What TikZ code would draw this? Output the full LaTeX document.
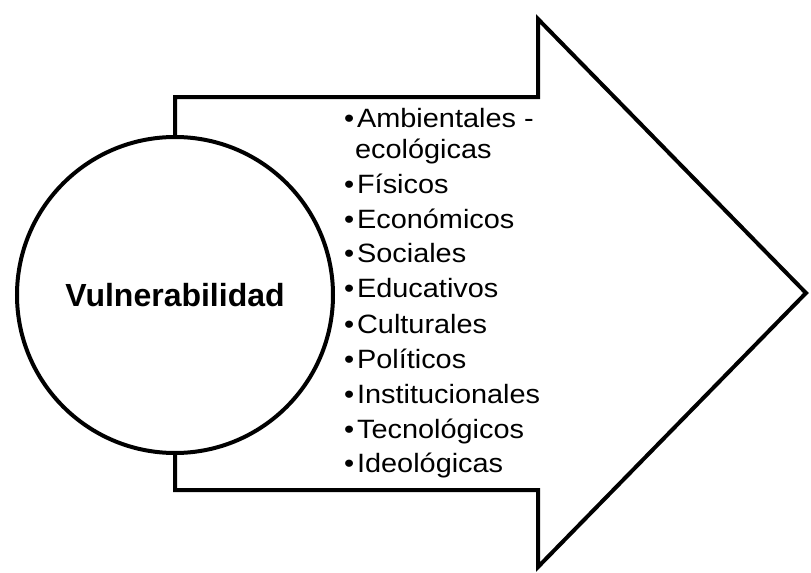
\documentclass[tikz,border=0pt]{standalone}
\usepackage{fontspec}
\setmainfont{Liberation Sans}
\newfontfamily\itemfont[FakeStretch=1.09]{Liberation Sans}

\begin{document}
\begin{tikzpicture}[x=0.5pt,y=-0.5pt,line width=2pt,
        item/.style={anchor=base west,inner sep=0pt,font=\itemfont\fontsize{13.25}{15.5}\selectfont}]
        \useasboundingbox (0,0) rectangle (811,573);
        \node[circle,draw,minimum size=158pt,inner sep=0pt,font=\bfseries\fontsize{16}{18}\selectfont] (vul) at (175,295) {Vulnerabilidad};
        \draw[line join=miter] (vul.north) -- (175,97) -- (538,97) -- (538,19) -- (806,293) -- (538,567) -- (538,490) -- (175,490) -- (vul.south);
        \node[item,align=left] (amb) at (342,158) {\textbullet\hspace{1.5pt}Ambientales -\\\phantom{\textbullet}\hspace{0.5pt}ecológicas};
        \foreach \t [count=\k from 2] in {Físicos,Económicos,Sociales,Educativos,Culturales,Políticos,Institucionales,Tecnológicos,Ideológicas}
            \node[item] (i\k) at (342,{193+35*(\k-2)}) {\textbullet\hspace{1.5pt}\t};
\end{tikzpicture}
\end{document}
